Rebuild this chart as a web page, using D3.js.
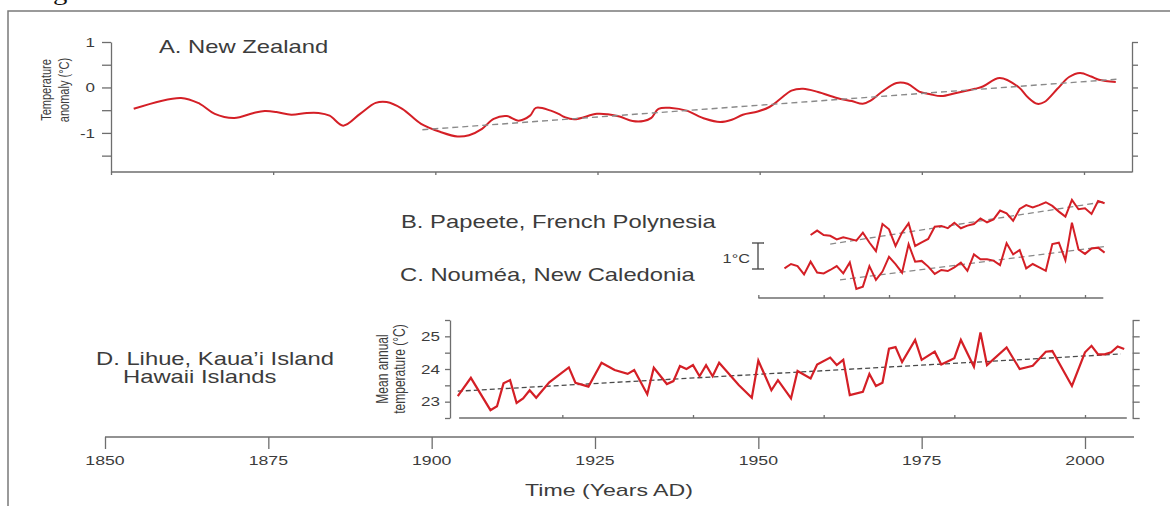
<!DOCTYPE html>
<html><head><meta charset="utf-8">
<script src="https://cdn.jsdelivr.net/npm/d3@7"></script>
<style>html,body{margin:0;padding:0;background:#fff;} svg{display:block;font-family:"Liberation Sans",Arial,sans-serif;}</style>
</head><body><svg id="c" width="1170" height="506"></svg>
<script>
// ---------------- DATA ----------------
// A. New Zealand (smoothed temperature anomaly, °C)
const nzYears = [1853.5,1860.8,1863.7,1866,1869,1872,1873.7,1875.5,1877.8,1880.2,1882,1883.7,1885.8,1888.4,1890.8,1892.5,1894.9,1897.8,1900.8,1903.4,1905.2,1907.2,1909,1911,1912.8,1914.6,1915.5,1917.8,1919,1919.9,1921.4,1924.9,1926.6,1928.4,1930.4,1932.1,1933.3,1934.4,1936.4,1938.7,1941.6,1943.9,1945.7,1947.4,1949.7,1951.5,1953.2,1954.9,1956.7,1959,1961.9,1964.2,1965.9,1967.1,1968.8,1971.1,1972.8,1974.6,1976.3,1978,1980.3,1983.2,1984.4,1987,1989.9,1991.3,1992.8,1993.9,1995.9,1997.7,1999.4,2001.1,2002.3,2004.9];
const nzValues = [-0.47,-0.23,-0.36,-0.58,-0.67,-0.56,-0.52,-0.54,-0.60,-0.56,-0.56,-0.62,-0.84,-0.58,-0.34,-0.32,-0.47,-0.80,-0.98,-1.08,-1.05,-0.91,-0.69,-0.63,-0.73,-0.62,-0.45,-0.51,-0.58,-0.65,-0.70,-0.58,-0.59,-0.64,-0.74,-0.74,-0.67,-0.47,-0.45,-0.51,-0.69,-0.76,-0.71,-0.60,-0.53,-0.43,-0.25,-0.07,-0.03,-0.10,-0.23,-0.30,-0.36,-0.29,-0.10,0.10,0.08,-0.09,-0.15,-0.19,-0.12,-0.03,0.02,0.21,0.01,-0.21,-0.36,-0.32,-0.03,0.23,0.32,0.24,0.17,0.12];
const nzTrendYears = [1898, 2005];
const nzTrendValues = [-0.93, 0.18];
const nzTicks = [1, 0.5, 0, -0.5, -1, -1.5];
const nzTickLabels = [["1",1],["0",0],["-1",-1]];

// B. Papeete (annual anomaly, °C)
const papYears = d3.range(1958, 2004);
const papValues = [0.00,0.17,0.00,-0.03,-0.17,-0.09,-0.15,-0.22,0.09,-0.29,-0.62,0.42,0.22,-0.42,0.10,0.45,-0.42,-0.28,-0.15,0.32,0.35,0.26,0.47,0.26,0.36,0.42,0.64,0.49,0.60,0.94,0.83,0.55,1.00,1.15,1.06,1.15,1.26,1.12,0.90,0.71,1.35,0.99,1.03,0.81,1.31,1.22];
const papTrendYears = [1961, 2003];
const papTrendValues = [-0.35, 1.28];

// C. Nouméa (annual anomaly, °C)
const nouYears = d3.range(1954, 2004);
const nouValues = [0.06,0.23,0.15,-0.17,0.32,-0.10,-0.13,0.00,0.15,-0.13,0.29,-0.73,-0.64,0.15,-0.38,-0.06,0.51,0.23,-0.10,0.99,0.32,0.35,0.13,-0.15,0.00,-0.04,0.10,0.28,-0.03,0.60,0.41,0.41,0.36,0.19,1.03,0.60,0.77,0.06,0.23,0.10,-0.03,1.00,1.05,0.38,1.82,0.79,0.62,0.83,0.86,0.67];
const nouTrendYears = [1962.5, 2003];
const nouTrendValues = [-0.38, 0.90];
const bcTicks = [1950, 1960, 1970, 1980, 1990, 2000];
const scaleBarValues = [0, 1];

// D. Lihue (mean annual temperature, °C)
const lihYears = [1904,1906,1909,1910,1911,1912,1913,1914,1915,1916,1918,1921,1922,1924,1926,1928,1930,1931,1933,1934,1936,1937,1938,1939,1940,1941,1942,1943,1944,1947,1949,1950,1952,1953,1955,1956,1958,1959,1961,1962,1963,1964,1966,1967,1968,1969,1970,1971,1972,1974,1975,1977,1978,1980,1981,1983,1984,1985,1988,1990,1992,1994,1995,1998,2000,2001,2002,2003,2004,2005,2006];
const lihValues = [23.17,23.73,22.74,22.86,23.56,23.66,22.96,23.10,23.35,23.12,23.59,24.05,23.58,23.46,24.19,23.97,23.85,23.97,23.23,24.04,23.54,23.63,24.09,24.00,24.12,23.78,24.12,23.78,24.19,23.51,23.12,24.26,23.35,23.66,23.10,23.94,23.71,24.14,24.35,24.12,24.28,23.20,23.30,23.85,23.48,23.58,24.62,24.67,24.21,24.89,24.28,24.53,24.14,24.33,24.89,24.07,25.12,24.12,24.66,24.00,24.10,24.53,24.55,23.48,24.51,24.71,24.45,24.45,24.51,24.69,24.61];
const lihTrendYears = [1904, 2005.5];
const lihTrendValues = [23.32, 24.46];
const lihTicks = [22.5, 23, 23.5, 24, 24.5, 25, 25.5];
const lihTickLabels = [23, 24, 25];
const lihXTicks = [1920, 1940, 1960, 1980, 2000];

// Main time axis
const timeTicks = [1850, 1875, 1900, 1925, 1950, 1975, 2000];

// ---------------- DRAWING ----------------
const svg = d3.select('#c');
const S = 1.36;
const TXT = '#3c3c3c', AX = '#6e6e6e', RED = '#d41f26';

function txt(x, y, str, size, anchor) {
  return svg.append('text')
    .attr('transform', `translate(${x},${y}) scale(${S},1)`)
    .attr('text-anchor', anchor || 'start')
    .attr('font-size', size).attr('fill', TXT).text(str);
}
function vtxt(x, y, str, size) {
  return svg.append('text')
    .attr('transform', `translate(${x},${y}) scale(${S},1) rotate(-90)`)
    .attr('text-anchor', 'middle').attr('dominant-baseline', 'central')
    .attr('font-size', size).attr('fill', TXT).text(str);
}
function styleAxis(g) {
  g.selectAll('path,line').attr('stroke', AX).attr('stroke-width', 1.3);
  g.selectAll('text').remove();
}

// frame
svg.append('path').attr('d', 'M8,506V11H1170').attr('fill', 'none')
  .attr('stroke', '#7a7a7a').attr('stroke-width', 1.5);
svg.append('text').attr('transform', 'translate(29,0) scale(1.2,1)')
  .attr('font-family', '"Liberation Serif", serif').attr('font-size', 24)
  .attr('fill', '#111').text('Fig');

// ---- Panel A ----
const xA = d3.scaleLinear().domain([1850, 2000]).range([111, 1084]);
const yA = d3.scaleLinear().domain([-1.86, 1]).range([172, 42]);
svg.append('g').attr('transform', `translate(${xA(1850)},0)`)
  .call(d3.axisLeft(yA).tickValues(nzTicks).tickSize(9).tickSizeOuter(0).tickFormat('')).call(styleAxis);
svg.append('g').attr('transform', `translate(${xA(2007.4)},0)`)
  .call(d3.axisRight(yA).tickValues(nzTicks).tickSize(6).tickSizeOuter(0).tickFormat('')).call(styleAxis);
const gAx = svg.append('g').attr('transform', `translate(0,${yA(-1.86)})`)
  .call(d3.axisBottom(xA).tickValues(timeTicks).tickSize(3).tickSizeOuter(0).tickFormat('')).call(styleAxis);
gAx.select('.domain').remove();
gAx.append('line').attr('x1', xA(1850)).attr('x2', xA(2007.4)).attr('stroke', AX).attr('stroke-width', 1.3);
nzTickLabels.forEach(([t, v]) => txt(95, yA(v) + 4.6, t, 12.5, 'end'));
vtxt(46, 90, 'Temperature', 11);
vtxt(64, 90, 'anomaly (°C)', 11);
txt(159, 53, 'A. New Zealand', 17.5);

const lineA = d3.line().x((d, i) => xA(nzYears[i])).y(d => yA(d)).curve(d3.curveCatmullRom.alpha(0.5));
svg.append('path').attr('d', lineA(nzValues)).attr('fill', 'none')
  .attr('stroke', RED).attr('stroke-width', 2);
svg.append('path').attr('d', d3.line().x((d, i) => xA(nzTrendYears[i])).y(d => yA(d))(nzTrendValues))
  .attr('fill', 'none').attr('stroke', '#8a8a8a').attr('stroke-width', 1.4).attr('stroke-dasharray', '6,4');

// ---- Main x scale ----
const xM = d3.scaleLinear().domain([1850, 2000]).range([105, 1085]);

// ---- Panels B & C ----
const yB = d3.scaleLinear().domain([0, 1]).range([235, 209]);
const yC = d3.scaleLinear().domain([0, 1]).range([270, 244]);
const yBar = d3.scaleLinear().domain([0, 1]).range([269, 243]);
const gBC = svg.append('g').attr('transform', 'translate(0,298)')
  .call(d3.axisBottom(xM).tickValues(bcTicks).tickSize(-3).tickSizeOuter(0).tickFormat('')).call(styleAxis);
gBC.select('.domain').remove();
gBC.append('line').attr('x1', xM(1950)).attr('x2', xM(2002.8)).attr('stroke', AX).attr('stroke-width', 1.3);

const barX = 758;
svg.append('line').attr('x1', barX).attr('x2', barX).attr('y1', yBar(scaleBarValues[0])).attr('y2', yBar(scaleBarValues[1]))
  .attr('stroke', '#444').attr('stroke-width', 1.3);
scaleBarValues.forEach(v => svg.append('line').attr('x1', barX - 6).attr('x2', barX + 6)
  .attr('y1', yBar(v)).attr('y2', yBar(v)).attr('stroke', '#444').attr('stroke-width', 1.3));
txt(750, 263, '1°C', 12, 'end');
txt(401, 228, 'B. Papeete, French Polynesia', 17.5);
txt(400, 281, 'C. Nouméa, New Caledonia', 17.5);

function series(years, values, ys, width) {
  svg.append('path').attr('d', d3.line().x((d, i) => xM(years[i])).y(d => ys(d))(values))
    .attr('fill', 'none').attr('stroke', RED).attr('stroke-width', width).attr('stroke-linejoin', 'miter');
}
function trend(years, values, ys, color, dash) {
  svg.append('path').attr('d', d3.line().x((d, i) => xM(years[i])).y(d => ys(d))(values))
    .attr('fill', 'none').attr('stroke', color).attr('stroke-width', 1.3).attr('stroke-dasharray', dash);
}
trend(papTrendYears, papTrendValues, yB, '#8a8a8a', '6,4');
trend(nouTrendYears, nouTrendValues, yC, '#8a8a8a', '6,4');
series(papYears, papValues, yB, 2);
series(nouYears, nouValues, yC, 2);

// ---- Panel D ----
const yD = d3.scaleLinear().domain([22.5, 25.5]).range([418, 320]);
svg.append('g').attr('transform', 'translate(450,0)')
  .call(d3.axisLeft(yD).tickValues(lihTicks).tickSize(5).tickSizeOuter(0).tickFormat('')).call(styleAxis);
svg.append('g').attr('transform', `translate(${xM(2007.3)},0)`)
  .call(d3.axisRight(yD).tickValues(lihTicks).tickSize(7).tickSizeOuter(0).tickFormat('')).call(styleAxis);
const gDx = svg.append('g').attr('transform', `translate(0,${yD(22.5)})`)
  .call(d3.axisBottom(xM).tickValues(lihXTicks).tickSize(-3).tickSizeOuter(0).tickFormat('')).call(styleAxis);
gDx.select('.domain').remove();
gDx.append('line').attr('x1', xM(1904.2)).attr('x2', xM(2006.4)).attr('stroke', AX).attr('stroke-width', 1.3);
lihTickLabels.forEach(v => txt(440, yD(v) + 4.6, String(v), 12.5, 'end'));
vtxt(382, 369, 'Mean annual', 12);
vtxt(399, 369, 'temperature (°C)', 12);
txt(96, 365, 'D. Lihue, Kaua’i Island', 17.5);
txt(123, 383, 'Hawaii Islands', 17.5);
trend(lihTrendYears, lihTrendValues, yD, '#4a4a4a', '5,3');
series(lihYears, lihValues, yD, 2.2);

// ---- Main time axis ----
const gM = svg.append('g').attr('transform', 'translate(0,437)')
  .call(d3.axisBottom(xM).tickValues(timeTicks).tickSize(12).tickSizeOuter(0).tickFormat('')).call(styleAxis);
gM.select('.domain').remove();
gM.append('line').attr('x1', xM(1850)).attr('x2', xM(2007.5)).attr('stroke', AX).attr('stroke-width', 1.3);
timeTicks.forEach(t => txt(xM(t), 465, String(t), 13, 'middle'));
txt(609, 496, 'Time (Years AD)', 17, 'middle');
</script></body></html>
